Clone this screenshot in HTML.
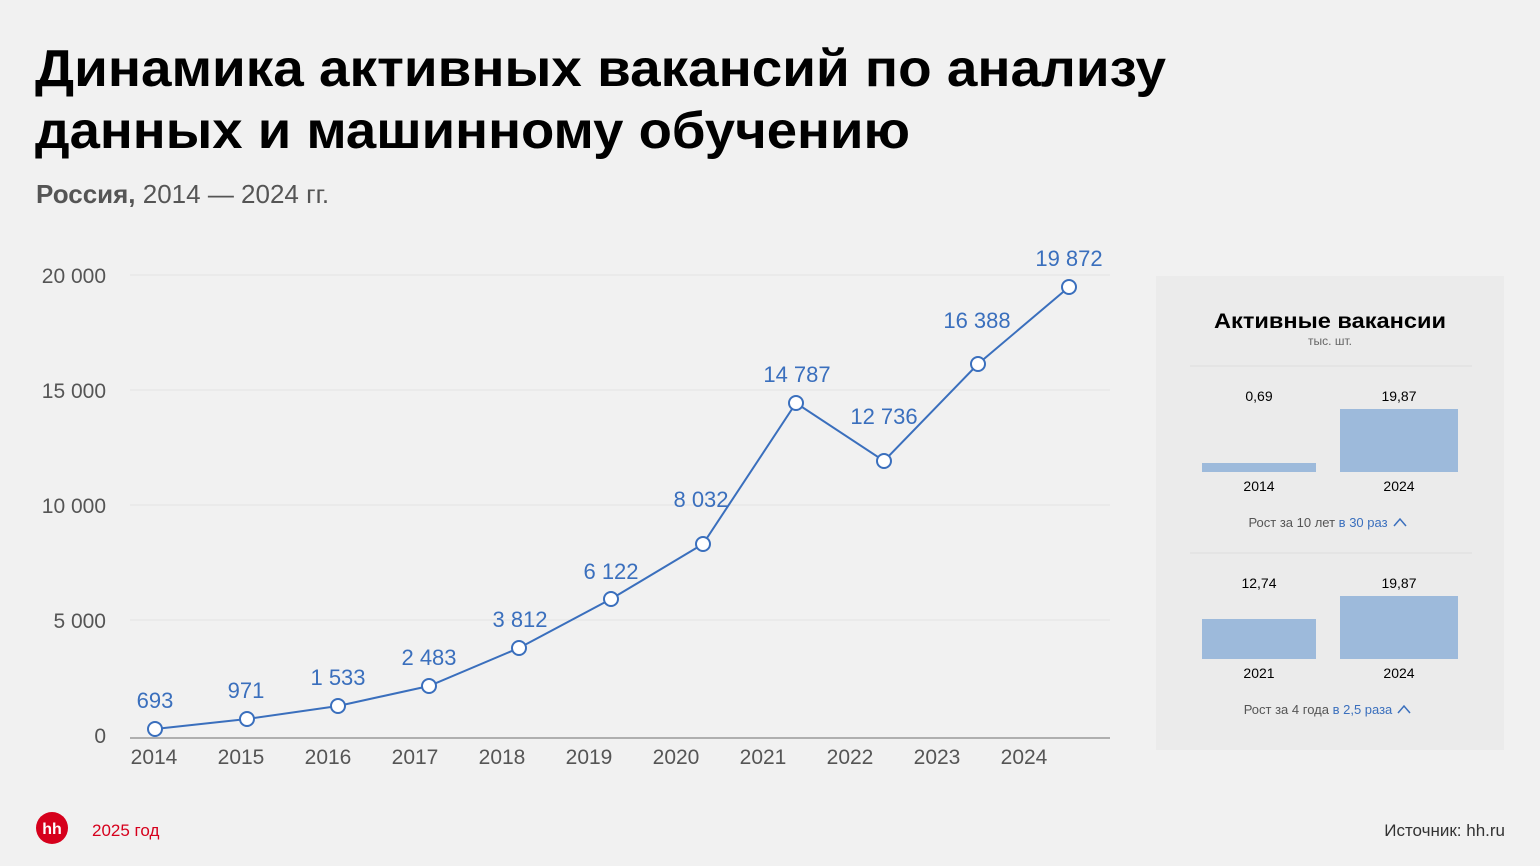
<!DOCTYPE html>
<html><head><meta charset="utf-8"><style>
html,body{margin:0;padding:0;background:#f1f1f1;}
svg{display:block;font-family:"Liberation Sans",Arial,sans-serif;}
</style></head><body>
<svg width="1540" height="866" viewBox="0 0 1540 866" xmlns="http://www.w3.org/2000/svg">
<rect width="1540" height="866" fill="#f1f1f1"/>
<text x="35" y="86" font-size="52" font-weight="bold" fill="#000" textLength="1131" lengthAdjust="spacingAndGlyphs">Динамика активных вакансий по анализу</text>
<text x="35" y="148" font-size="52" font-weight="bold" fill="#000" textLength="875" lengthAdjust="spacingAndGlyphs">данных и машинному обучению</text>
<text x="36" y="203" font-size="26" fill="#555"><tspan font-weight="bold">Россия,</tspan> 2014 —  2024 гг.</text>
<g stroke="#e2e2e2" stroke-width="1">
<line x1="130" y1="275" x2="1110" y2="275"/>
<line x1="130" y1="390" x2="1110" y2="390"/>
<line x1="130" y1="505" x2="1110" y2="505"/>
<line x1="130" y1="620" x2="1110" y2="620"/>
</g>
<line x1="130" y1="738" x2="1110" y2="738" stroke="#999" stroke-width="1.5"/>
<g font-size="21" fill="#555" text-anchor="end">
<text x="106" y="283">20 000</text>
<text x="106" y="398">15 000</text>
<text x="106" y="513">10 000</text>
<text x="106" y="628">5 000</text>
<text x="106" y="743">0</text>
</g>
<g font-size="21" fill="#555" text-anchor="middle">
<text x="154" y="764">2014</text><text x="241" y="764">2015</text><text x="328" y="764">2016</text>
<text x="415" y="764">2017</text><text x="502" y="764">2018</text><text x="589" y="764">2019</text>
<text x="676" y="764">2020</text><text x="763" y="764">2021</text><text x="850" y="764">2022</text>
<text x="937" y="764">2023</text><text x="1024" y="764">2024</text>
</g>
<polyline fill="none" stroke="#3a6fbd" stroke-width="2" points="155,729 247,719 338,706 429,686 519,648 611,599 703,544 796,403 884,461 978,364 1069,287"/>
<g fill="#fff" stroke="#3a6fbd" stroke-width="2">
<circle cx="155" cy="729" r="7"/><circle cx="247" cy="719" r="7"/><circle cx="338" cy="706" r="7"/>
<circle cx="429" cy="686" r="7"/><circle cx="519" cy="648" r="7"/><circle cx="611" cy="599" r="7"/>
<circle cx="703" cy="544" r="7"/><circle cx="796" cy="403" r="7"/><circle cx="884" cy="461" r="7"/>
<circle cx="978" cy="364" r="7"/><circle cx="1069" cy="287" r="7"/>
</g>
<g font-size="22" fill="#3a6fbd" text-anchor="middle">
<text x="155" y="708">693</text><text x="246" y="698">971</text><text x="338" y="685">1 533</text>
<text x="429" y="665">2 483</text><text x="520" y="627">3 812</text><text x="611" y="579">6 122</text>
<text x="701" y="507">8 032</text><text x="797" y="382">14 787</text><text x="884" y="424">12 736</text>
<text x="977" y="328">16 388</text><text x="1069" y="266">19 872</text>
</g>
<rect x="1156" y="276" width="348" height="474" fill="#ebebeb"/>
<text x="1214" y="328" font-size="21" font-weight="bold" fill="#000" textLength="232" lengthAdjust="spacingAndGlyphs">Активные вакансии</text>
<text x="1330" y="345" font-size="12" text-anchor="middle" fill="#666">тыс. шт.</text>
<line x1="1190" y1="366" x2="1472" y2="366" stroke="#dcdcdc"/>
<line x1="1190" y1="553" x2="1472" y2="553" stroke="#dcdcdc"/>
<g fill="#9dbadb">
<rect x="1202" y="463" width="114" height="9"/>
<rect x="1340" y="409" width="118" height="63"/>
<rect x="1202" y="619" width="114" height="40"/>
<rect x="1340" y="596" width="118" height="63"/>
</g>
<g font-size="14" fill="#000" text-anchor="middle">
<text x="1259" y="401">0,69</text><text x="1399" y="401">19,87</text>
<text x="1259" y="491">2014</text><text x="1399" y="491">2024</text>
<text x="1259" y="588">12,74</text><text x="1399" y="588">19,87</text>
<text x="1259" y="678">2021</text><text x="1399" y="678">2024</text>
</g>
<text x="1318" y="527" font-size="13" text-anchor="middle" fill="#555">Рост за 10 лет <tspan fill="#3a6fbd">в 30 раз</tspan></text>
<polyline points="1394,526 1400,519 1406,526" fill="none" stroke="#3a6fbd" stroke-width="1.5"/>
<text x="1318" y="714" font-size="13" text-anchor="middle" fill="#555">Рост за 4 года <tspan fill="#3a6fbd">в 2,5 раза</tspan></text>
<polyline points="1398,713 1404,706 1410,713" fill="none" stroke="#3a6fbd" stroke-width="1.5"/>
<circle cx="52" cy="828" r="16" fill="#d6001c"/>
<text x="52" y="834" font-size="16" font-weight="bold" fill="#fff" text-anchor="middle">hh</text>
<text x="92" y="836" font-size="17" fill="#d6001c">2025 год</text>
<text x="1505" y="836" font-size="17" fill="#333" text-anchor="end">Источник: hh.ru</text>
</svg>
</body></html>
